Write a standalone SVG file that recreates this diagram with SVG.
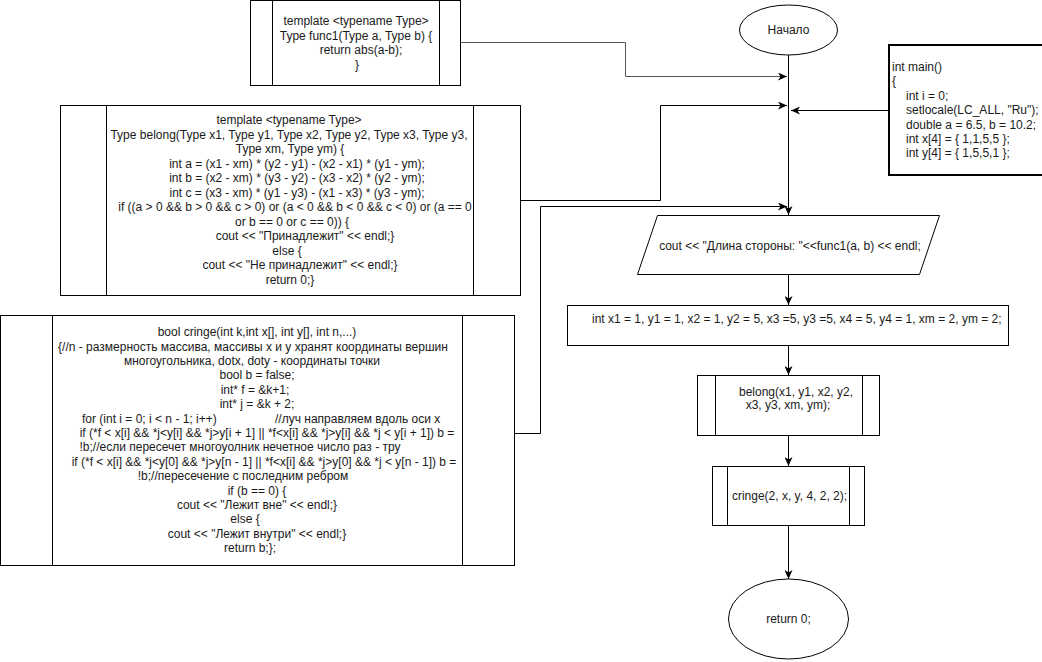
<svg xmlns="http://www.w3.org/2000/svg" width="1042" height="662" viewBox="0 0 1042 662">
<style>
.s{fill:#fff;stroke:#000;stroke-width:1}
.ln{fill:none;stroke:#000;stroke-width:1}
.t{font-family:"Liberation Sans",Arial,sans-serif;font-size:12px;fill:#1a1a1a}
.m{text-anchor:middle}
.c{fill:none;stroke:#000;stroke-width:1}
</style>
<defs>
<marker id="ar" markerUnits="userSpaceOnUse" markerWidth="10" markerHeight="8" refX="9" refY="4" orient="auto">
<path d="M0,0 L9,4 L0,8 L2.5,4 z" fill="#000"/>
</marker>
</defs>
<rect width="1042" height="662" fill="#fff"/>

<g id="connectors">
<path class="c" style="stroke:#555" d="M460.5,42.5 H625.5 V76.5 H787" marker-end="url(#ar)"/>
<path class="c" d="M520.5,200.5 H660.5 V105.5 H787" marker-end="url(#ar)"/>
<path class="c" d="M514.5,433.5 H540.5 V206.5 H787" marker-end="url(#ar)"/>
<path class="c" d="M889,110.5 H791" marker-end="url(#ar)"/>
<path class="c" d="M788.5,55 V215" marker-end="url(#ar)"/>
<path class="c" d="M788.5,274 V305" marker-end="url(#ar)"/>
<path class="c" d="M788.5,345 V375" marker-end="url(#ar)"/>
<path class="c" d="M788.5,435 V466" marker-end="url(#ar)"/>
<path class="c" d="M788.5,525 V579" marker-end="url(#ar)"/>
</g>

<g id="func1">
<rect class="s" x="250.5" y="0.5" width="210" height="85"/>
<path class="ln" d="M272.5,0.5 V85.5 M439.5,0.5 V85.5"/>
<text class="t m" x="356" y="25">template &lt;typename Type&gt;</text>
<text class="t m" x="356" y="39.5">Type func1(Type a, Type b) {</text>
<text class="t m" x="361" y="54">return abs(a-b);</text>
<text class="t m" x="357" y="68.5">}</text>
</g>

<g id="belong">
<rect class="s" x="60.5" y="105.5" width="460" height="190"/>
<path class="ln" d="M106.5,105.5 V295.5 M473.5,105.5 V295.5"/>
<text class="t m" x="289" y="124">template &lt;typename Type&gt;</text>
<text class="t m" x="289" y="138.5">Type belong(Type x1, Type y1, Type x2, Type y2, Type x3, Type y3,</text>
<text class="t m" x="290" y="153">Type xm, Type ym) {</text>
<text class="t m" x="297" y="167.5">int a = (x1 - xm) * (y2 - y1) - (x2 - x1) * (y1 - ym);</text>
<text class="t m" x="297" y="182">int b = (x2 - xm) * (y3 - y2) - (x3 - x2) * (y2 - ym);</text>
<text class="t m" x="297" y="196.5">int c = (x3 - xm) * (y1 - y3) - (x1 - x3) * (y3 - ym);</text>
<text class="t m" x="295" y="211">if ((a &gt; 0 &amp;&amp; b &gt; 0 &amp;&amp; c &gt; 0) or (a &lt; 0 &amp;&amp; b &lt; 0 &amp;&amp; c &lt; 0) or (a == 0</text>
<text class="t m" x="292" y="225.5">or b == 0 or c == 0)) {</text>
<text class="t m" x="305" y="240">cout &lt;&lt; "Принадлежит" &lt;&lt; endl;}</text>
<text class="t m" x="287" y="254.5">else {</text>
<text class="t m" x="300" y="269">cout &lt;&lt; "Не принадлежит" &lt;&lt; endl;}</text>
<text class="t m" x="290" y="283.5">return 0;}</text>
</g>

<g id="cringe">
<rect class="s" x="0.5" y="315.5" width="514" height="250"/>
<path class="ln" d="M52.5,315.5 V565.5 M462.5,315.5 V565.5"/>
<text class="t m" x="257" y="336.2">bool cringe(int k,int x[], int y[], int n,...)</text>
<text class="t m" x="253" y="350.6">{//n - размерность массива, массивы x и y хранят координаты вершин</text>
<text class="t m" x="252" y="365">многоугольника, dotx, doty - координаты точки</text>
<text class="t m" x="257" y="379.4">bool b = false;</text>
<text class="t m" x="255" y="393.8">int* f = &amp;k+1;</text>
<text class="t m" x="257" y="408.2">int* j = &amp;k + 2;</text>
<text class="t" y="422.6"><tspan x="82">for (int i = 0; i &lt; n - 1; i++)</tspan><tspan x="275">//луч направляем вдоль оси x</tspan></text>
<text class="t m" x="267" y="437">if (*f &lt; x[i] &amp;&amp; *j&lt;y[i] &amp;&amp; *j&gt;y[i + 1] || *f&lt;x[i] &amp;&amp; *j&gt;y[i] &amp;&amp; *j &lt; y[i + 1]) b =</text>
<text class="t m" x="240" y="451.4">!b;//если пересечет многоуолник нечетное число раз - тру</text>
<text class="t m" x="264" y="465.8">if (*f &lt; x[i] &amp;&amp; *j&lt;y[0] &amp;&amp; *j&gt;y[n - 1] || *f&lt;x[i] &amp;&amp; *j&gt;y[0] &amp;&amp; *j &lt; y[n - 1]) b =</text>
<text class="t m" x="243" y="480.2">!b;//пересечение с последним ребром</text>
<text class="t m" x="257" y="494.6">if (b == 0) {</text>
<text class="t m" x="257" y="509">cout &lt;&lt; "Лежит вне" &lt;&lt; endl;}</text>
<text class="t m" x="245" y="523.4">else {</text>
<text class="t m" x="257" y="537.8">cout &lt;&lt; "Лежит внутри" &lt;&lt; endl;}</text>
<text class="t m" x="250" y="552.2">return b;};</text>
</g>

<g id="start">
<ellipse class="s" cx="788.5" cy="30" rx="49" ry="25"/>
<text class="t m" x="788.5" y="34">Начало</text>
</g>

<g id="main">
<rect x="889" y="45" width="170" height="130" fill="#fff" stroke="#000" stroke-width="2"/>
<text class="t" x="892" y="71">int main()</text>
<text class="t" x="892" y="85.4">{</text>
<text class="t" x="906" y="99.8">int i = 0;</text>
<text class="t" x="906" y="114.2">setlocale(LC_ALL, "Ru");</text>
<text class="t" x="906" y="128.6">double a = 6.5, b = 10.2;</text>
<text class="t" x="906" y="143">int x[4] = { 1,1,5,5 };</text>
<text class="t" x="906" y="157.4">int y[4] = { 1,5,5,1 };</text>
</g>

<g id="output">
<polygon class="s" points="657.5,215.5 939.5,215.5 919.5,274.5 637.5,274.5"/>
<text class="t m" x="790" y="250">cout &lt;&lt; "Длина стороны: "&lt;&lt;func1(a, b) &lt;&lt; endl;</text>
</g>

<g id="init">
<rect class="s" x="567.5" y="305.5" width="441" height="40"/>
<text class="t" x="592" y="323">int x1 = 1, y1 = 1, x2 = 1, y2 = 5, x3 =5, y3 =5, x4 = 5, y4 = 1, xm = 2, ym = 2;</text>
</g>

<g id="call-belong">
<rect class="s" x="697.5" y="375.5" width="182" height="60"/>
<path class="ln" d="M715.5,375.5 V435.5 M862.5,375.5 V435.5"/>
<text class="t m" x="796" y="395.5">belong(x1, y1, x2, y2,</text>
<text class="t m" x="788" y="408.5">x3, y3, xm, ym);</text>
</g>

<g id="call-cringe">
<rect class="s" x="712.5" y="466.5" width="152" height="59"/>
<path class="ln" d="M727.5,466.5 V525.5 M849.5,466.5 V525.5"/>
<text class="t m" x="789.5" y="500">cringe(2, x, y, 4, 2, 2);</text>
</g>

<g id="end">
<ellipse class="s" cx="788.5" cy="619" rx="60" ry="40"/>
<text class="t m" x="788.5" y="623">return 0;</text>
</g>
</svg>
